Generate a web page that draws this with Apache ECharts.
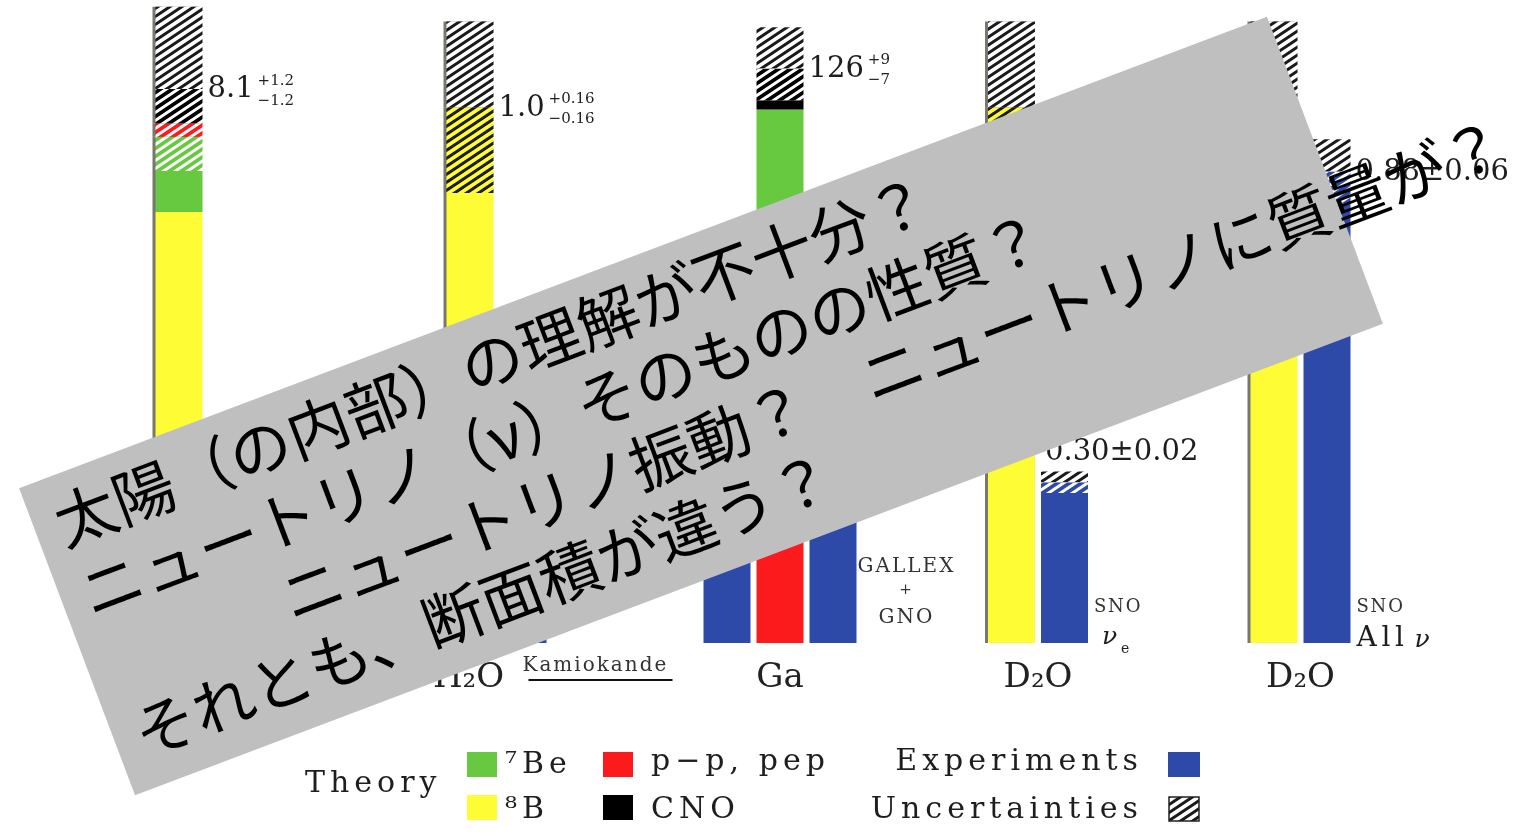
<!DOCTYPE html>
<html>
<head>
<meta charset="utf-8">
<script src="https://cdn.jsdelivr.net/npm/echarts@6/dist/echarts.min.js"></script>
<style>
  html, body { margin: 0; padding: 0; background: #ffffff; }
  #chart { width: 1537px; height: 836px; }
</style>
</head>
<body>
<div id="chart"></div>
<script>
// Solar neutrino rates: standard solar model predictions vs. experiments

// ---- data ----
const groupNames = ['Cl', 'H₂O', 'Ga', 'D₂O', 'D₂O'];
const barSlots = [
  ['Theory', 'Homestake'],
  ['Theory', 'Kamiokande'],
  ['SAGE', 'Theory', 'GALLEX + GNO'],
  ['Theory', 'SNO νe'],
  ['Theory', 'SNO All ν']
];
const sourceKeys = ['be7', 'pp', 'b8', 'cno'];
const sourceNames = ['⁷Be', 'p−p, pep', '⁸B', 'CNO'];
// contribution order, bottom to top, for each detector
const stackOrder = [
  ['b8', 'be7', 'pp', 'cno'],
  ['b8'],
  ['pp', 'b8', 'be7', 'cno'],
  ['b8'],
  ['b8']
];
// predicted contributions (SNU for Cl and Ga, fraction of SSM for water detectors)
const rateB8  = [6.3, 1.0, 11, 1.0, 1.0];
const rateBe7 = [1.1, 0, 34, 0, 0];
const ratePP  = [0.2, 0, 72, 0, 0];
const rateCNO = [0.5, 0, 9, 0, 0];
const theoryErrUp   = [1.2, 0.16, 9, 0.16, 0.16];
const theoryErrDown = [1.2, 0.16, 7, 0.16, 0.16];
const theoryDigits  = [1, 1, 0, 1, 1];
const theoryErrDigits = [1, 2, 0, 2, 2];
const theoryLabelShown = [true, true, true, false, false];

// measured rates
const expNames = ['Homestake', 'Kamiokande', 'SAGE', 'GALLEX + GNO', 'SNO νe', 'SNO All ν'];
const expGroup = [0, 1, 2, 2, 3, 4];
const expRate  = [2.56, 0.47, 70.8, 69.3, 0.30, 0.88];
const expErr   = [0.23, 0.02, 6.0, 5.5, 0.02, 0.06];
const expDigits = [2, 2, 1, 1, 2, 2];
const expLabelSide = [null, null, null, null, 'top', 'right'];

// value range of each detector's axis
const axisMax = [9.40, 1.2, 141, 1.2, 1.2];

// ---- layout & style ----
const W = 1537, H = 836;
const BASE_Y = 643;
const BAR_W = 47;
const SLOT_W = 53;
const gridLeft = [152.5, 443.5, 700.5, 985, 1247.5];
const nameShift = [0, -28, 0, 0, 0];
const COLORS = { b8: '#fdfc35', be7: '#66c93f', pp: '#fb1a1c', cno: '#000000', exp: '#2d4aa9' };
const STRIPE = { b8: '#1a1a1a', be7: '#ffffff', pp: '#ffffff', cno: '#ffffff', exp: '#ffffff' };
const SERIF = '"DejaVu Serif", "Liberation Serif", serif';
const rates = { b8: rateB8, be7: rateBe7, pp: ratePP, cno: rateCNO };

// diagonal hatching tile
function hatch(bg, fg) {
  const w = 12, h = 8;
  const c = document.createElement('canvas');
  c.width = w; c.height = h;
  const x = c.getContext('2d');
  x.fillStyle = bg; x.fillRect(0, 0, w, h);
  x.strokeStyle = fg; x.lineWidth = 3;
  x.beginPath();
  [-h, 0, h].forEach(o => { x.moveTo(-w, 2 * h + o); x.lineTo(2 * w, -h + o); });
  x.stroke();
  return { image: c, repeat: 'repeat' };
}
const uncertaintyFill = hatch('#ffffff', '#1a1a1a');

const grids = [], xAxes = [], yAxes = [], series = [];

groupNames.forEach((name, g) => {
  const slots = barSlots[g];
  grids.push({ left: gridLeft[g], width: SLOT_W * slots.length, top: 0, bottom: H - BASE_Y });
  xAxes.push({
    type: 'category', gridIndex: g, data: slots,
    axisLine: { show: false }, axisTick: { show: false }, axisLabel: { show: false },
    splitLine: { show: false },
    name: name, nameLocation: 'middle', nameGap: 18,
    nameTextStyle: {
      fontFamily: SERIF, fontSize: 34, color: '#222',
      padding: nameShift[g] < 0 ? [0, -2 * nameShift[g], 0, 0] : [0, 0, 0, 2 * nameShift[g]]
    }
  });
  yAxes.push({ type: 'value', gridIndex: g, min: 0, max: axisMax[g], show: false, splitLine: { show: false } });

  const at = (slot, v) => slots.map((s, i) => (i === slot ? v : '-'));
  const shade = g === 2 ? {} : { shadowColor: 'rgba(95,95,85,0.85)', shadowOffsetX: -3, shadowBlur: 0 };
  const add = (nm, data, color, extra) => series.push({
    type: 'bar', name: nm, xAxisIndex: g, yAxisIndex: g, stack: 'g' + g,
    barWidth: BAR_W, silent: true, data: data,
    itemStyle: Object.assign({ color: color }, extra || {})
  });

  // theory: solid below the lower uncertainty, hatched up to the central value, open hatch above
  const ti = slots.indexOf('Theory');
  const total = stackOrder[g].reduce((s, k) => s + rates[k][g], 0);
  const lo = total - theoryErrDown[g];
  let base = 0;
  stackOrder[g].forEach(k => {
    const v = rates[k][g];
    const solid = Math.max(0, Math.min(v, lo - base));
    add(k, at(ti, solid), COLORS[k], shade);
    add(k + ' range', at(ti, v - solid), hatch(COLORS[k], STRIPE[k]), shade);
    base += v;
  });
  add('theory uncertainty', at(ti, theoryErrUp[g]), uncertaintyFill, shade);

  // experiments in this detector group
  expNames.forEach((en, k) => {
    if (expGroup[k] !== g) return;
    const si = slots.indexOf(en);
    add(en, at(si, expRate[k] - expErr[k]), COLORS.exp);
    add(en + ' range', at(si, expErr[k]), hatch(COLORS.exp, STRIPE.exp));
    add(en + ' uncertainty', at(si, expErr[k]), uncertaintyFill);
  });
});

const chart = echarts.init(document.getElementById('chart'));
chart.setOption({
  animation: false,
  backgroundColor: '#ffffff',
  grid: grids, xAxis: xAxes, yAxis: yAxes, series: series
});

// ---- annotations placed through the axes ----
const measureCtx = document.createElement('canvas').getContext('2d');
const measure = (t, font) => { measureCtx.font = font; return measureCtx.measureText(t).width; };
const xPix = (g, slot) => chart.convertToPixel({ xAxisIndex: g }, slot);
const yPix = (g, v) => chart.convertToPixel({ yAxisIndex: g }, v);
const spaced = (s, sp) => Array.from(s).join(sp);
const INK = '#1e1e1e';

function txt(text, x, y, font, opt) {
  return Object.assign({
    type: 'text', x: x, y: y, z: 20,
    style: Object.assign({ text: text, font: font, fill: INK, align: 'left', verticalAlign: 'middle',
      textAlign: 'left', textVerticalAlign: 'middle' }, (opt && opt.style) || {})
  }, (opt && opt.el) || {});
}
function styleAlign(a, extra) { return { style: Object.assign({ align: a, textAlign: a }, extra || {}) }; }

const graphics = [];

// theory values with asymmetric errors
groupNames.forEach((name, g) => {
  if (!theoryLabelShown[g]) return;
  const ti = barSlots[g].indexOf('Theory');
  const total = stackOrder[g].reduce((s, k) => s + rates[k][g], 0);
  const x0 = xPix(g, ti) + BAR_W / 2 + 5;
  const y0 = yPix(g, total) + 1;
  const mainFont = '29px ' + SERIF;
  const main = total.toFixed(theoryDigits[g]);
  const smallFont = '15px ' + SERIF;
  const xs = x0 + measure(main, mainFont) + 4;
  graphics.push(txt(main, x0, y0, mainFont));
  graphics.push(txt('+' + theoryErrUp[g].toFixed(theoryErrDigits[g]), xs, y0 - 9, smallFont));
  graphics.push(txt('−' + theoryErrDown[g].toFixed(theoryErrDigits[g]), xs, y0 + 11, smallFont));
});

// measured values
expNames.forEach((en, k) => {
  const side = expLabelSide[k];
  if (!side) return;
  const g = expGroup[k];
  const si = barSlots[g].indexOf(en);
  const cx = xPix(g, si);
  const label = expRate[k].toFixed(expDigits[k]) + '±' + expErr[k].toFixed(expDigits[k]);
  const font = '29px ' + SERIF;
  if (side === 'top') {
    graphics.push(txt(label, cx - BAR_W / 2 + 4, yPix(g, expRate[k] + expErr[k]) - 19, font));
  } else {
    graphics.push(txt(label, cx + BAR_W / 2 + 5, yPix(g, expRate[k]) + 1, font));
  }
});

// experiment tags beside the measured bars
(function () {
  const tagFont = '20px ' + SERIF;
  const sp = '\u200A';
  // Kamiokande
  const kx = xPix(1, 1) + BAR_W / 2 - 24;
  graphics.push(txt(spaced('Kamiokande', sp), kx, BASE_Y + 23, tagFont, { style: { fill: '#333' } }));
  graphics.push({ type: 'line', z: 20, shape: { x1: kx + 6, y1: BASE_Y + 37, x2: kx + 150, y2: BASE_Y + 37 },
    style: { stroke: '#111', lineWidth: 2 } });
  // GALLEX + GNO
  const gx = xPix(2, 2) + BAR_W / 2 + 49;
  graphics.push(txt(spaced('GALLEX', sp), gx, BASE_Y - 76, tagFont, styleAlign('center', { fill: '#333' })));
  graphics.push(txt('+', gx, BASE_Y - 53, '15px ' + SERIF, styleAlign('center', { fill: '#333' })));
  graphics.push(txt(spaced('GNO', sp), gx, BASE_Y - 25, tagFont, styleAlign('center', { fill: '#333' })));
  // SNO tags
  [[3, 1, null], [4, 1, 'All']].forEach(([g, si, pre]) => {
    const sx = xPix(g, si) + BAR_W / 2 + 6;
    graphics.push(txt(spaced('SNO', sp), sx, BASE_Y - 36, '18px ' + SERIF, { style: { fill: '#333' } }));
    if (pre) {
      graphics.push(txt(spaced(pre, '\u2006'), sx, BASE_Y - 4, '28px ' + SERIF));
      graphics.push(txt('ν', sx + 58, BASE_Y - 3, 'italic 25px ' + SERIF));
    } else {
      graphics.push(txt('ν', sx + 8, BASE_Y - 6, 'italic 25px ' + SERIF));
      graphics.push(txt('e', sx + 27, BASE_Y + 6, '14px ' + SERIF));
    }
  });
})();

// ---- legend ----
(function () {
  const f = '30px ' + SERIF;
  const sp = '\u2006';
  const swatch = (x, y, w, h, fill, stroke) => ({
    type: 'rect', z: 20, shape: { x: x, y: y, width: w, height: h },
    style: { fill: fill, stroke: stroke || null, lineWidth: stroke ? 1.5 : 0 }
  });
  graphics.push(txt(spaced('Theory', sp), 305, 784, f));
  const cells = [
    ['be7', 467, 752, 505, 765],
    ['pp', 603, 752, 651, 762],
    ['b8', 467, 795, 505, 810],
    ['cno', 603, 795, 651, 810]
  ];
  cells.forEach(([key, sx, sy, tx, ty]) => {
    graphics.push(swatch(sx, sy, 30, 25, COLORS[key]));
    graphics.push(txt(spaced(sourceNames[sourceKeys.indexOf(key)], sp), tx, ty, f));
  });
  graphics.push(txt(spaced('Experiments', sp), 1138, 762, f, styleAlign('right')));
  graphics.push(swatch(1168, 752, 32, 25, COLORS.exp));
  graphics.push(txt(spaced('Uncertainties', sp), 1138, 810, f, styleAlign('right')));
  graphics.push(swatch(1169, 797, 30, 24, uncertaintyFill, '#222'));
})();

// ---- tilted question panel ----
const panelLines = [
  '太陽（の内部）の理解が不十分？',
  'ニュートリノ（ν）そのものの性質？',
  '　　　ニュートリノ振動？　ニュートリノに質量が？',
  'それとも、断面積が違う？'
];
(function () {
  const pw = 1334, ph = 328;
  const children = [{
    type: 'rect', z: 100, shape: { x: -pw / 2, y: -ph / 2, width: pw, height: ph },
    style: { fill: '#bfbfbf' }
  }];
  panelLines.forEach((line, i) => {
    children.push({
      type: 'text', z: 101, x: -645, y: -116 + i * 75,
      style: { text: line, font: '62px "Noto Sans CJK JP", sans-serif', fill: '#000000',
        align: 'left', verticalAlign: 'middle', textAlign: 'left', textVerticalAlign: 'middle' }
    });
  });
  graphics.push({ type: 'group', z: 100, x: 701, y: 406, rotation: 20.7 * Math.PI / 180, children: children });
})();

chart.setOption({ graphic: { elements: graphics } });
</script>
</body>
</html>
